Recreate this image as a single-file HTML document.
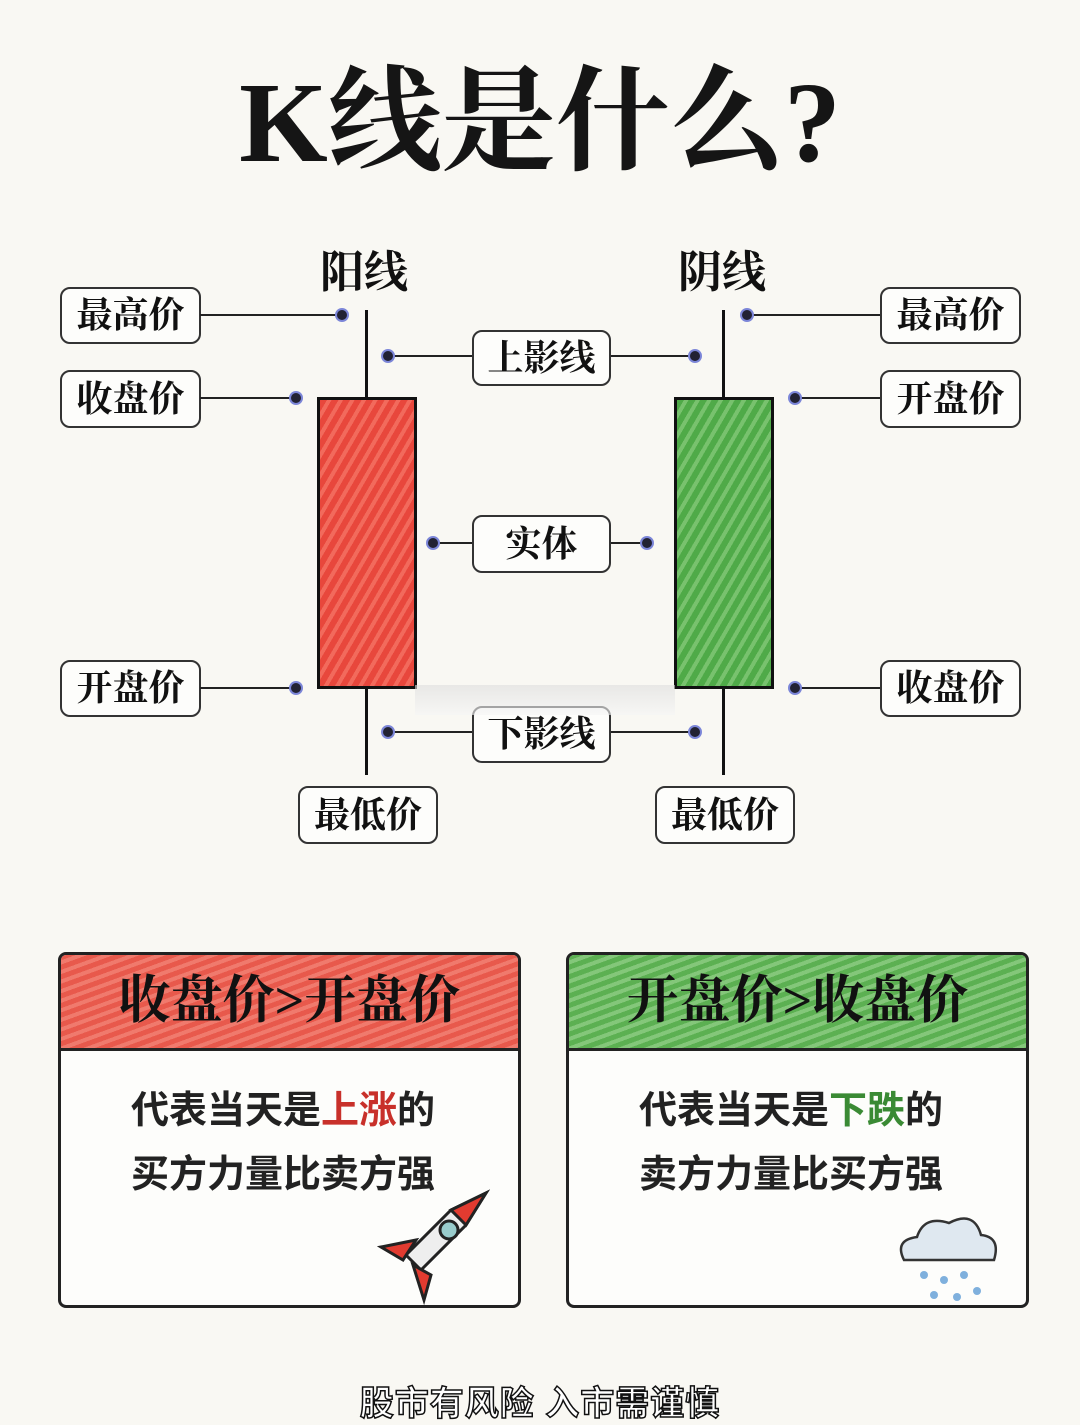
<!DOCTYPE html>
<html><head><meta charset="utf-8"><style>
body{margin:0;width:1080px;height:1400px;background:#f9f8f3;position:relative;overflow:hidden;font-family:"Liberation Serif","Noto Serif CJK SC",serif;}
.a{position:absolute}
.t{position:absolute;left:0;width:1080px;top:58px;text-align:center;font-size:114px;font-weight:bold;color:#151515;line-height:130px}
.h{position:absolute;font-size:44px;font-weight:bold;color:#111;line-height:50px}
.lb{position:absolute;border:2px solid #333;border-radius:10px;background:#fdfdfb;font-size:36px;font-weight:bold;text-align:center;color:#111;box-sizing:border-box;font-family:"Liberation Serif","Noto Serif CJK SC",serif}
.ln{position:absolute;height:2px;background:#222}
.d{position:absolute;width:10px;height:10px;border-radius:50%;background:#223;border:2px solid #7c86d8;margin:-7px 0 0 -7px}
.w{position:absolute;width:3px;background:#111}
.box{position:absolute;border:3px solid #222;border-radius:8px;box-sizing:border-box;background:#fdfdfb}
.hd{position:absolute;left:0;right:0;top:0;height:93px;border-bottom:3px solid #222;font-size:52px;font-weight:bold;text-align:center;line-height:93px;color:#111;border-radius:5px 5px 0 0}
.tx{position:absolute;font-size:38px;font-weight:bold;line-height:64px;color:#222;font-family:"Liberation Sans","Noto Sans CJK SC",sans-serif}
</style></head><body>
<div class="t">K线是什么?</div>
<div class="h" style="left:320px;top:248px">阳线</div>
<div class="h" style="left:678px;top:248px">阴线</div>

<div class="w" style="left:365px;top:310px;height:465px"></div>
<div class="a" style="left:317px;top:397px;width:100px;height:292px;box-sizing:border-box;border:3px solid #111;background:repeating-linear-gradient(120deg,#e8473c 0 6px,#f26a5c 6px 10px)"></div>
<div class="w" style="left:722px;top:310px;height:465px"></div>
<div class="a" style="left:674px;top:397px;width:100px;height:292px;box-sizing:border-box;border:3px solid #111;background:repeating-linear-gradient(120deg,#4faa48 0 6px,#78c26e 6px 10px)"></div>

<div class="lb" style="left:60px;top:287px;width:141px;height:57px;line-height:53px">最高价</div>
<div class="lb" style="left:60px;top:370px;width:141px;height:58px;line-height:54px">收盘价</div>
<div class="lb" style="left:60px;top:660px;width:141px;height:57px;line-height:53px">开盘价</div>
<div class="ln" style="left:200px;top:314px;width:142px"></div><div class="d" style="left:342px;top:315px"></div>
<div class="ln" style="left:200px;top:397px;width:96px"></div><div class="d" style="left:296px;top:398px"></div>
<div class="ln" style="left:200px;top:687px;width:96px"></div><div class="d" style="left:296px;top:688px"></div>

<div class="lb" style="left:880px;top:287px;width:141px;height:57px;line-height:53px">最高价</div>
<div class="lb" style="left:880px;top:370px;width:141px;height:58px;line-height:54px">开盘价</div>
<div class="lb" style="left:880px;top:660px;width:141px;height:57px;line-height:53px">收盘价</div>
<div class="ln" style="left:747px;top:314px;width:133px"></div><div class="d" style="left:747px;top:315px"></div>
<div class="ln" style="left:795px;top:397px;width:85px"></div><div class="d" style="left:795px;top:398px"></div>
<div class="ln" style="left:795px;top:687px;width:85px"></div><div class="d" style="left:795px;top:688px"></div>

<div class="ln" style="left:388px;top:355px;width:307px"></div><div class="d" style="left:388px;top:356px"></div><div class="d" style="left:695px;top:356px"></div>
<div class="lb" style="left:472px;top:330px;width:139px;height:56px;line-height:52px">上影线</div>
<div class="ln" style="left:433px;top:542px;width:214px"></div><div class="d" style="left:433px;top:543px"></div><div class="d" style="left:647px;top:543px"></div>
<div class="lb" style="left:472px;top:515px;width:139px;height:58px;line-height:54px">实体</div>
<div class="ln" style="left:388px;top:731px;width:307px"></div><div class="d" style="left:388px;top:732px"></div><div class="d" style="left:695px;top:732px"></div>
<div class="lb" style="left:472px;top:706px;width:139px;height:57px;line-height:53px">下影线</div>
<div class="a" style="left:415px;top:685px;width:260px;height:30px;background:linear-gradient(#ddd,#f5f5f5);opacity:.6"></div>

<div class="lb" style="left:298px;top:786px;width:140px;height:58px;line-height:54px">最低价</div>
<div class="lb" style="left:655px;top:786px;width:140px;height:58px;line-height:54px">最低价</div>

<div class="box" style="left:58px;top:952px;width:463px;height:356px">
<div class="hd" style="background:repeating-linear-gradient(160deg,#e8594c 0 5px,#f07a6d 5px 9px)">收盘价&gt;开盘价</div>
<div class="tx" style="left:70px;top:124px">代表当天是<span style="color:#c8302a">上涨</span>的<br>买方力量比卖方强</div>
<svg class="a" style="left:300px;top:230px" width="140" height="120" viewBox="0 0 140 120"><path d="M125 8 L90 25 L45 70 L60 85 L105 40 Z" fill="#eee" stroke="#222" stroke-width="3"/><path d="M125 8 L105 40 L90 25Z" fill="#e23b30" stroke="#222" stroke-width="3"/><circle cx="88" cy="45" r="9" fill="#9cc" stroke="#222" stroke-width="3"/><path d="M55 55 L20 62 L42 75Z M70 90 L63 115 L52 80Z" fill="#e23b30" stroke="#222" stroke-width="3"/></svg>
</div>
<div class="box" style="left:566px;top:952px;width:463px;height:356px">
<div class="hd" style="background:repeating-linear-gradient(160deg,#5cb052 0 5px,#84c77a 5px 9px)">开盘价&gt;收盘价</div>
<div class="tx" style="left:70px;top:124px">代表当天是<span style="color:#3a8a34">下跌</span>的<br>卖方力量比买方强</div>
<svg class="a" style="left:320px;top:250px" width="120" height="100" viewBox="0 0 120 100"><path d="M15 55 Q5 35 28 32 Q35 10 60 18 Q85 5 92 30 Q112 32 105 55 Z" fill="#dfe8f0" stroke="#333" stroke-width="2.5"/><g fill="#7fb0dd"><circle cx="35" cy="70" r="4"/><circle cx="55" cy="75" r="4"/><circle cx="75" cy="70" r="4"/><circle cx="45" cy="90" r="4"/><circle cx="68" cy="92" r="4"/><circle cx="88" cy="86" r="4"/></g></svg>
</div>

<div class="a" style="left:0;width:1080px;top:1376px;text-align:center;font-size:34px;font-weight:bold;color:#fff;font-family:'Liberation Sans','Noto Sans CJK SC',sans-serif;-webkit-text-stroke:1.5px #111;letter-spacing:1px">股市有风险 入市需谨慎</div>
</body></html>
